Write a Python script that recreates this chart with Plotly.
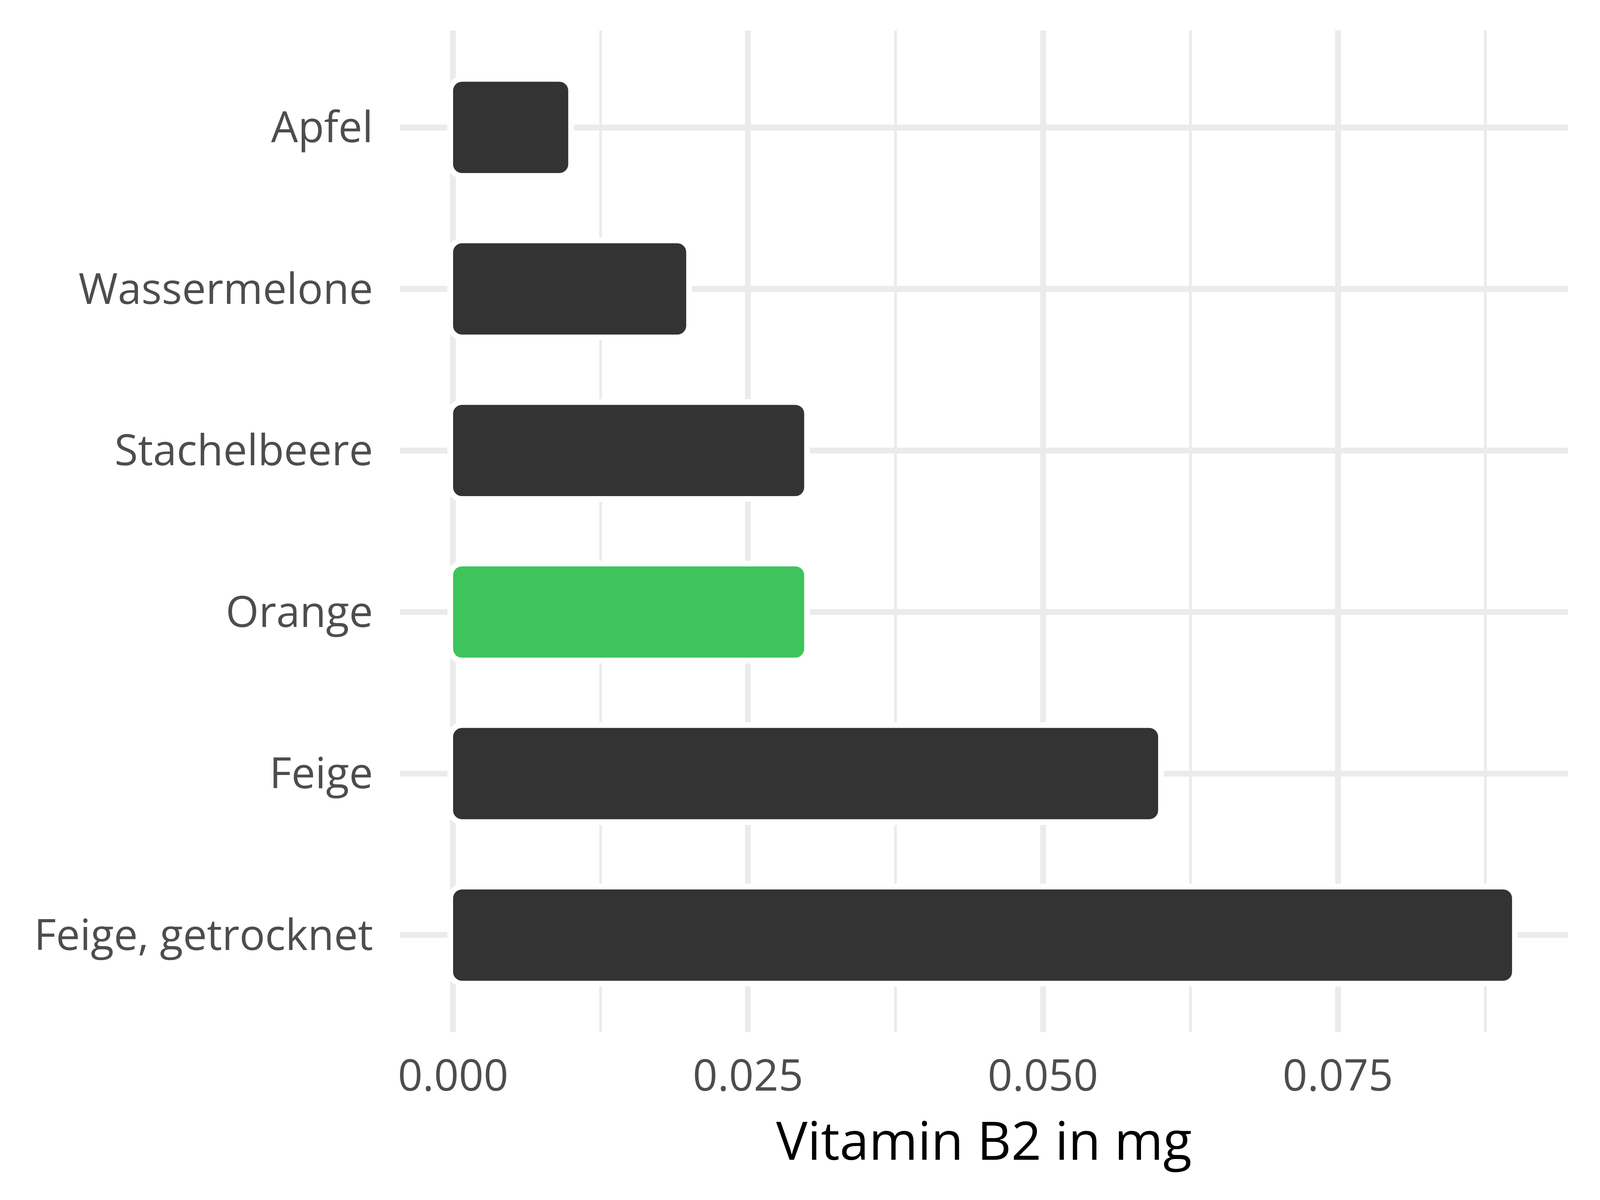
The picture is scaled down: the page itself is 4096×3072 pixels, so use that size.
import plotly.graph_objects as go

categories = ["Apfel", "Wassermelone", "Stachelbeere", "Orange", "Feige", "Feige, getrocknet"]
values = [0.01, 0.02, 0.03, 0.03, 0.06, 0.09]
highlight = "Orange"
x_ticks = [0.0, 0.025, 0.05, 0.075]
x_tick_labels = ["0.000", "0.025", "0.050", "0.075"]
x_minor = [0.0125, 0.0375, 0.0625, 0.0875]

DARK = "#333333"
GREEN = "#3EC45A"
GRID = "#EBEBEB"
FONT = "Open Sans"

W, H = 4096, 3072
ML, MR, MT, MB = 1024, 82, 78, 430
X_RANGE = [-0.0045, 0.0945]
STROKE = 14.5

# shift the bar base left by half the outline so the dark fill starts at zero
px_per_unit = (W - ML - MR) / (X_RANGE[1] - X_RANGE[0])
base_shift = -(STROKE / 2) / px_per_unit

colors = [GREEN if c == highlight else DARK for c in categories]

fig = go.Figure()
fig.add_trace(go.Bar(
    y=categories, x=[v - base_shift for v in values], base=base_shift, orientation="h",
    marker=dict(color=colors, line=dict(color="white", width=STROKE), cornerradius=30),
    width=0.6, showlegend=False, hoverinfo="skip",
))

fig.update_layout(
    width=W, height=H,
    margin=dict(l=ML, r=MR, t=MT, b=MB, autoexpand=False),
    paper_bgcolor="white", plot_bgcolor="white",
    font=dict(family=FONT, color="#4D4D4D", size=111),
    xaxis=dict(
        range=X_RANGE, tickvals=x_ticks, ticktext=x_tick_labels,
        showgrid=True, gridcolor=GRID, gridwidth=14.5, zeroline=False,
        minor=dict(tickvals=x_minor, showgrid=True, gridcolor=GRID, gridwidth=7),
        ticks="", showline=False, ticklabelstandoff=38,
        tickfont=dict(family=FONT, size=111, color="#4D4D4D"),
        title=dict(text="Vitamin B2 in mg", font=dict(family=FONT, size=135, color="black"), standoff=28),
        layer="below traces",
    ),
    yaxis=dict(
        type="category", categoryorder="array", categoryarray=categories,
        range=[5.6, -0.6],
        showgrid=True, gridcolor=GRID, gridwidth=14.5, zeroline=False,
        ticks="", showline=False, ticklabelstandoff=68,
        tickfont=dict(family=FONT, size=109, color="#4D4D4D"),
        layer="below traces",
    ),
)

fig.write_html("out.html", config={"displayModeBar": False},
               post_script="document.body.style.margin='0';")
